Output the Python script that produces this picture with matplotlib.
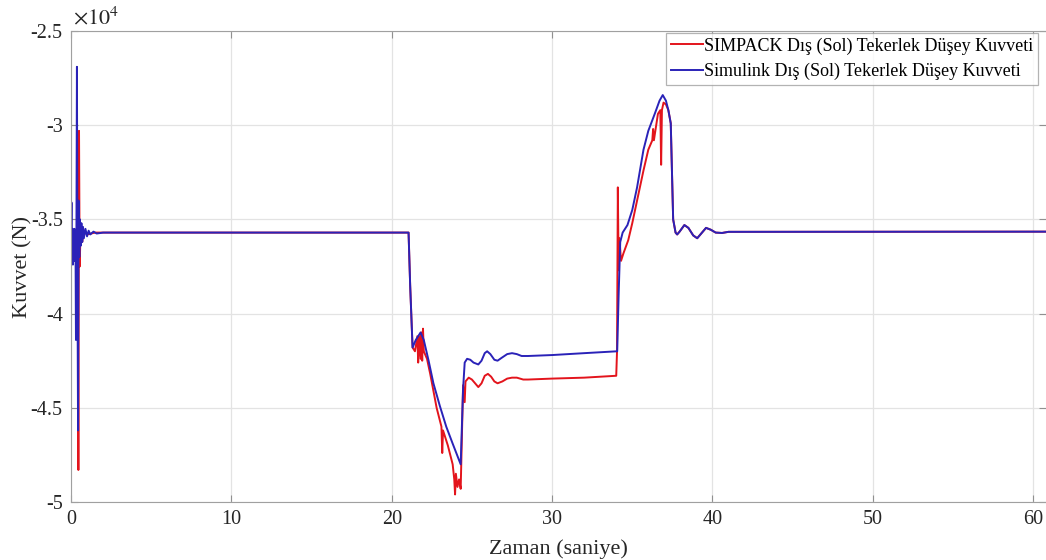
import numpy as np
import matplotlib.pyplot as plt
from matplotlib.ticker import FuncFormatter

plt.rcParams['font.family'] = ['Liberation Serif', 'DejaVu Serif']
plt.rcParams['mathtext.fontset'] = 'stix'

# SIMPACK (red) - time [s], force [x1e4 N]
t_simpack = [0, 0.1, 0.2, 0.3, 0.42, 0.46, 0.5, 0.54, 0.6, 0.7, 0.8, 1.0, 1.5, 2.0,
             21.05, 21.15, 21.3, 21.45, 21.6, 21.65, 21.7, 21.8, 21.85, 21.9, 21.95, 22.0,
             22.2, 22.4, 22.8, 23.1, 23.15, 23.2, 23.5, 23.8, 23.9, 23.95, 24.0, 24.1,
             24.2, 24.3, 24.45, 24.55, 24.6, 24.8, 25.0, 25.2, 25.4, 25.6, 25.8, 26.0,
             26.2, 26.4, 26.6, 26.9, 27.2, 27.5, 27.8, 28.2, 28.5, 30.0, 32.0, 34.0,
             34.05, 34.1, 34.15, 34.2, 34.3, 34.45, 34.75, 35.0, 35.3, 35.7, 36.0,
             36.25, 36.3, 36.35, 36.6, 36.75, 36.8, 36.85, 36.95, 37.1, 37.25, 37.4, 37.55,
             37.7, 37.8, 37.95, 38.25, 38.5, 38.8, 39.05, 39.3, 39.6, 39.9, 40.2, 40.6, 41.0, 61.0]
f_simpack = [-3.60, -3.68, -3.56, -3.70, -3.58, -4.83, -3.03, -3.75, -3.55, -3.62, -3.56, -3.58, -3.57, -3.57,
             -3.57, -3.85, -4.18, -4.20, -4.12, -4.26, -4.12, -4.24, -4.10, -4.25, -4.08, -4.20,
             -4.24, -4.32, -4.50, -4.60, -4.74, -4.62, -4.70, -4.80, -4.88, -4.96, -4.85, -4.92,
             -4.88, -4.93, -4.38, -4.47, -4.36, -4.34, -4.35, -4.37, -4.39, -4.37, -4.33, -4.32,
             -4.335, -4.36, -4.37, -4.36, -4.345, -4.34, -4.34, -4.35, -4.35, -4.345, -4.34, -4.33,
             -4.20, -3.33, -3.77, -3.60, -3.72, -3.68, -3.61, -3.52, -3.40, -3.24, -3.13,
             -3.08, -3.02, -3.08, -2.94, -2.92, -3.21, -2.92, -2.88, -2.89, -2.92, -2.99, -3.50,
             -3.57, -3.58, -3.565, -3.53, -3.545, -3.585, -3.60, -3.575, -3.545, -3.555, -3.57, -3.572, -3.566, -3.565]

# Simulink (blue)
t_simulink = [0, 0.03, 0.06, 0.09, 0.12, 0.15, 0.18, 0.21, 0.24, 0.28, 0.31, 0.34, 0.37, 0.40,
              0.44, 0.47, 0.52, 0.56, 0.6, 0.65, 0.7, 0.75, 0.8, 0.9, 1.0, 1.1, 1.2, 1.4, 1.6,
              2.0, 21.05, 21.15, 21.3, 21.5, 21.8, 22.0, 22.3, 22.6, 23.0, 23.4, 23.8, 24.3,
              24.45, 24.55, 24.7, 24.9, 25.1, 25.4, 25.6, 25.8, 25.95, 26.15, 26.4, 26.6,
              26.85, 27.2, 27.5, 27.8, 28.1, 28.5, 30.0, 32.0, 34.06, 34.15, 34.25, 34.4,
              34.7, 35.0, 35.3, 35.7, 36.0, 36.4, 36.7, 36.9, 37.1, 37.25, 37.4, 37.55,
              37.7, 37.8, 37.95, 38.25, 38.5, 38.8, 39.05, 39.3, 39.6, 39.9, 40.2, 40.6, 41.0, 61.0]
f_simulink = [-3.60, -3.41, -3.72, -3.55, -3.74, -3.58, -3.70, -3.55, -3.72, -3.60, -4.14, -3.55, -2.69, -3.75,
              -4.62, -3.40, -3.70, -3.50, -3.64, -3.52, -3.62, -3.54, -3.60, -3.55, -3.59, -3.56, -3.58, -3.565, -3.575,
              -3.57, -3.57, -3.85, -4.18, -4.14, -4.10, -4.14, -4.25, -4.37, -4.49, -4.60, -4.69, -4.80,
              -4.40, -4.26, -4.24, -4.245, -4.26, -4.27, -4.25, -4.21, -4.20, -4.215, -4.245, -4.25,
              -4.235, -4.215, -4.21, -4.215, -4.225, -4.225, -4.22, -4.21, -4.20, -3.90, -3.62, -3.57,
              -3.53, -3.45, -3.33, -3.13, -3.03, -2.94, -2.87, -2.84, -2.87, -2.92, -2.99, -3.50,
              -3.57, -3.58, -3.565, -3.53, -3.545, -3.585, -3.60, -3.575, -3.545, -3.555, -3.57, -3.572, -3.566, -3.565]

fig = plt.figure(figsize=(10.46, 5.6), dpi=100)
ax = fig.add_axes([71 / 1046, 1 - 502 / 560, 1 - 71 / 1046, (502 - 31) / 560])

ax.plot(t_simpack, np.array(f_simpack) * 1e4, color='#e3141c', lw=1.4,
        label='SIMPACK Dış (Sol) Tekerlek Düşey Kuvveti')
ax.plot(t_simulink, np.array(f_simulink) * 1e4, color='#2a22b8', lw=1.4,
        label='Simulink Dış (Sol) Tekerlek Düşey Kuvveti')

ax.set_xlim(0, 60.8)
ax.set_ylim(-5e4, -2.5e4)
ax.set_xticks([0, 10, 20, 30, 40, 50, 60])
ax.set_yticks([-5e4, -4.5e4, -4e4, -3.5e4, -3e4, -2.5e4])
ax.yaxis.set_major_formatter(FuncFormatter(lambda v, p: '%g' % (v / 1e4)))
ax.tick_params(direction='in', top=True, right=True, labelsize=14.5, colors='#262626',
               length=5, pad=6)
ax.tick_params(axis='both', which='both', color='#909090')
for s in ['left', 'bottom', 'top']:
    ax.spines[s].set_color('#a0a0a0')
ax.spines['right'].set_visible(False)
ax.grid(True, color='#e3e3e3', lw=0.9)
ax.set_axisbelow(True)

ax.set_xlabel('Zaman (saniye)', fontsize=16, color='#262626', labelpad=7)
ax.set_ylabel('Kuvvet (N)', fontsize=16, color='#262626', labelpad=-1)
ax.text(0.002, 1.004, r'$\times10^{4}$', transform=ax.transAxes, fontsize=16,
        color='#262626', ha='left', va='bottom')

leg = ax.legend(loc='upper right', fontsize=13, frameon=True, fancybox=False,
                edgecolor='#a0a0a0', borderpad=0.25, handlelength=1.8, handletextpad=0.05,
                labelspacing=0.45, borderaxespad=0,
                bbox_to_anchor=(1038 / 1046, 1 - 33 / 560), bbox_transform=fig.transFigure)
leg.get_frame().set_linewidth(0.9)

fig.savefig('out.png', dpi=100)
